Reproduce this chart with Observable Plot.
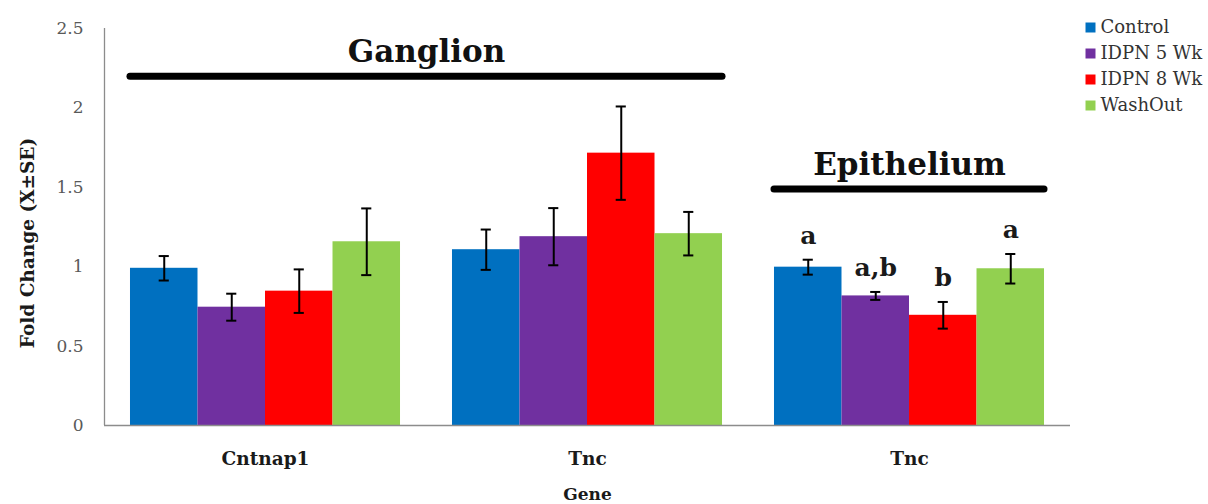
<!DOCTYPE html>
<html>
<head>
<meta charset="utf-8">
<script src="https://cdn.jsdelivr.net/npm/d3@7"></script>
<script src="https://cdn.jsdelivr.net/npm/@observablehq/plot@0.6"></script>
<style>
  body { margin: 0; background: #fff; }
  #chart { position: relative; width: 1208px; height: 504px; }
  #legend { position: absolute; left: 1080px; top: 14px; width: 128px; height: 104px; }
  #legend svg { display: block; width: 128px; height: 104px; max-width: none; }
</style>
</head>
<body>
<div id="chart"><div id="legend"></div></div>
<script>
// Gene groups along the x axis (the Tnc gene is measured in two tissues)
const genes = ["Cntnap1", "Tnc", "Tnc"];
const treatments = ["Control", "IDPN 5 Wk", "IDPN 8 Wk", "WashOut"];
const treatmentColors = ["#0070C0", "#7030A0", "#FF0000", "#92D050"];

// Mean fold change per gene group, one value per treatment
const foldChange = [
  [0.99, 0.745, 0.846, 1.157],
  [1.107, 1.189, 1.715, 1.208],
  [0.997, 0.816, 0.694, 0.987]
];
// Standard error per bar
const stdErr = [
  [0.077, 0.085, 0.137, 0.21],
  [0.127, 0.18, 0.294, 0.137],
  [0.047, 0.025, 0.084, 0.093]
];
// Significance letters (epithelium only)
const sigLetters = [null, null, ["a", "a,b", "b", "a"]];

// Tissue headers: first and last group covered, height of the bracket line
const tissueNames = ["Ganglion", "Epithelium"];
const tissueFirst = [0, 2];
const tissueLast = [1, 2];
const tissueLevel = [2.2, 1.49];

const yTicks = [0, 0.5, 1, 1.5, 2, 2.5];

// Layout of bars on a continuous x: each bar is one unit wide, groups separated by a gap
const gap = 0.77;
const step = treatments.length + gap;
const capHalf = 0.075;

const rows = genes.flatMap((gene, g) => treatments.map((t, s) => ({
  gene, treatment: t,
  x1: g * step + s,
  x2: g * step + s + 1,
  xc: g * step + s + 0.5,
  value: foldChange[g][s],
  se: stdErr[g][s],
  letter: sigLetters[g] ? sigLetters[g][s] : null
})));

const groups = genes.map((gene, g) => ({gene, center: g * step + treatments.length / 2}));

const headers = tissueNames.map((name, i) => ({
  name,
  x1: tissueFirst[i] * step,
  x2: tissueLast[i] * step + treatments.length,
  xc: (tissueFirst[i] * step + tissueLast[i] * step + treatments.length) / 2,
  level: tissueLevel[i]
}));

const serif = "DejaVu Serif, Noto Serif, Liberation Serif, serif";
const xDomain = [-gap / 2, genes.length * step - gap / 2];

const chart = Plot.plot({
  width: 1208,
  height: 504,
  marginLeft: 104,
  marginRight: 138,
  marginTop: 28,
  marginBottom: 79,
  style: {fontFamily: serif, background: "#fff"},
  x: {type: "linear", domain: xDomain, axis: null},
  y: {domain: [0, 2.5], axis: null},
  color: {domain: treatments, range: treatmentColors},
  marks: [
    Plot.axisY(yTicks, {tickSize: 0, tickPadding: 21, tickFormat: d => String(d), fontSize: 17, fill: "#595959", label: null, fontFamily: serif}),
    Plot.rectY(rows, {x1: "x1", x2: "x2", y: "value", fill: "treatment"}),
    // error bars
    Plot.ruleX(rows, {x: "xc", y1: d => d.value - d.se, y2: d => d.value + d.se, stroke: "#000", strokeWidth: 2}),
    Plot.ruleY(rows, {y: d => d.value + d.se, x1: d => d.xc - capHalf, x2: d => d.xc + capHalf, stroke: "#000", strokeWidth: 2}),
    Plot.ruleY(rows, {y: d => d.value - d.se, x1: d => d.xc - capHalf, x2: d => d.xc + capHalf, stroke: "#000", strokeWidth: 2}),
    // axis lines
    Plot.ruleX([xDomain[0]], {stroke: "#8c8c8c", strokeWidth: 1.3}),
    Plot.ruleY([0], {stroke: "#8c8c8c", strokeWidth: 1.3}),
    // significance letters
    Plot.text(rows.filter(d => d.letter), {x: "xc", y: d => d.value + d.se, text: "letter", dy: -16, lineAnchor: "bottom", fontSize: 25, fontWeight: "bold", fill: "#1a1a1a", fontFamily: serif}),
    // tissue header brackets
    Plot.ruleY(headers, {y: "level", x1: "x1", x2: "x2", stroke: "#000", strokeWidth: 7, strokeLinecap: "round"}),
    Plot.text(headers, {x: "xc", y: "level", text: "name", dy: -14, lineAnchor: "bottom", fontSize: 31, fontWeight: "bold", fill: "#111", fontFamily: serif}),
    // gene labels
    Plot.text(groups, {x: "center", frameAnchor: "bottom", text: "gene", dy: 39, lineAnchor: "bottom", fontSize: 18.5, fontWeight: "bold", fill: "#1a1a1a", fontFamily: serif}),
    Plot.text(["Gene"], {frameAnchor: "bottom", text: d => d, dy: 74, lineAnchor: "bottom", fontSize: 17, fontWeight: "bold", fill: "#1a1a1a", fontFamily: serif}),
    Plot.text(["Fold Change (X±SE)"], {frameAnchor: "left", textAnchor: "middle", text: d => d, rotate: -90, dx: -76, dy: 16, fontSize: 18.5, fontWeight: "bold", fill: "#1a1a1a", fontFamily: serif})
  ]
});

// Treatment legend in the right margin: one band per treatment
const legend = Plot.plot({
  width: 128,
  height: 104,
  marginTop: 0,
  marginRight: 0,
  marginBottom: 0,
  marginLeft: 0,
  style: {fontFamily: serif, background: "transparent"},
  y: {type: "band", domain: treatments, axis: null, padding: 0},
  color: {domain: treatments, range: treatmentColors},
  marks: [
    Plot.dot(treatments, {y: d => d, frameAnchor: "left", dx: 10, symbol: "square", r: 5.64, fill: d => d}),
    Plot.text(treatments, {y: d => d, frameAnchor: "left", textAnchor: "start", dx: 20, text: d => d, fontSize: 18, fill: "#333", fontFamily: serif})
  ]
});

const root = document.getElementById("chart");
root.insertBefore(chart, root.firstChild);
document.getElementById("legend").appendChild(legend);
</script>
</body>
</html>
